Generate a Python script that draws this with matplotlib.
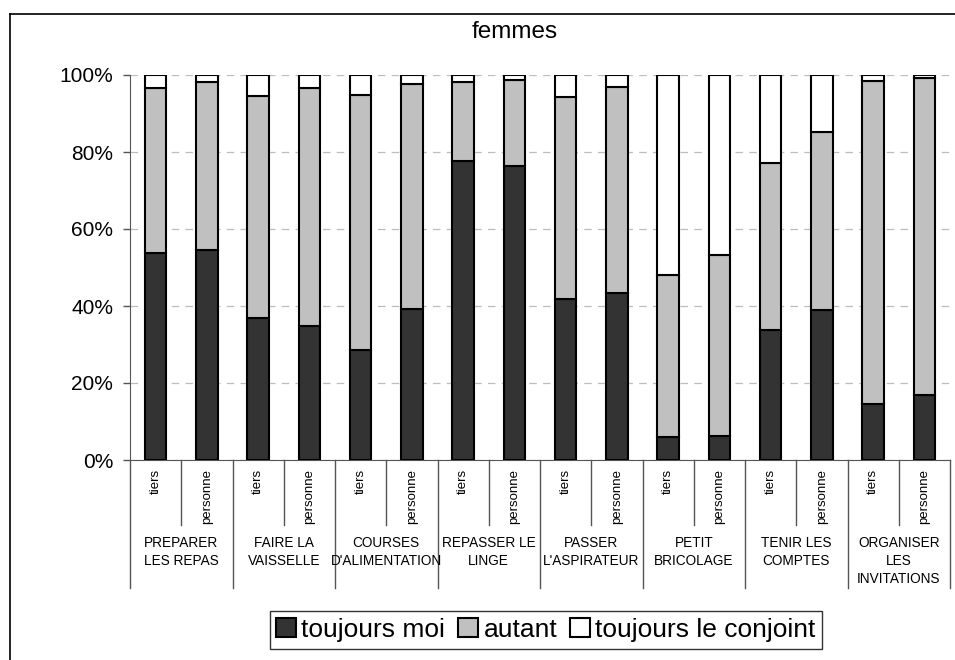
import numpy as np
import matplotlib
matplotlib.use("Agg")
import matplotlib.pyplot as plt
from matplotlib.lines import Line2D

plt.rcParams['font.family'] = ['Liberation Sans', 'DejaVu Sans']

# Data (percent)
categories = ["PREPARER\nLES REPAS", "FAIRE LA\nVAISSELLE", "COURSES\nD'ALIMENTATION",
              "REPASSER LE\nLINGE", "PASSER\nL'ASPIRATEUR", "PETIT\nBRICOLAGE",
              "TENIR LES\nCOMPTES", "ORGANISER\nLES\nINVITATIONS"]
sub_labels = ["tiers", "personne"]
toujours_moi = [53.7, 54.5, 36.8, 34.9, 28.7, 39.3, 77.7, 76.4,
                41.8, 43.5, 6.1, 6.2, 33.8, 39.0, 14.5, 16.9]
autant = [43.0, 43.8, 57.7, 61.8, 66.0, 58.4, 20.6, 22.3,
          52.4, 53.3, 41.9, 47.0, 43.4, 46.1, 83.9, 82.2]
toujours_conjoint = [3.3, 1.7, 5.5, 3.3, 5.3, 2.3, 1.7, 1.3,
                     5.8, 3.2, 52.0, 46.8, 22.8, 14.9, 1.6, 0.9]
series_names = ["toujours moi", "autant", "toujours le conjoint"]
colors = ["#333333", "#c0c0c0", "#ffffff"]

fig = plt.figure(figsize=(9.55, 6.6), dpi=100)
ax = fig.add_axes([130 / 955, 1 - 460 / 660, 820 / 955, 385 / 660])

x = np.arange(len(toujours_moi))
bottom = np.zeros(len(x))
for vals, name, col in zip([toujours_moi, autant, toujours_conjoint], series_names, colors):
    ax.bar(x, vals, width=0.42, bottom=bottom, color=col, edgecolor="black",
           linewidth=1.5, label=name, zorder=3)
    bottom += np.array(vals)

ax.set_xlim(-0.5, len(x) - 0.5)
ax.set_ylim(0, 100)
ax.set_yticks(range(0, 101, 20))
ax.set_yticklabels([f"{v}%" for v in range(0, 101, 20)], fontsize=15)
ax.tick_params(axis="y", length=5, width=1, color="#555555", pad=7)
ax.set_xticks([])
ax.yaxis.grid(True, color="#bdbdbd", linestyle=(0, (6, 5)), linewidth=0.9, zorder=0)

ax.spines["top"].set_visible(False)
ax.spines["right"].set_visible(False)
ax.spines["left"].set_color("#555555")
ax.spines["bottom"].set_color("#555555")

# Hierarchical x-axis labels
trans = ax.get_xaxis_transform()
for i in range(len(x)):
    ax.text(i, -0.024, sub_labels[i % 2], rotation=90, ha="center", va="top",
            fontsize=9.5, transform=trans)
for g in range(len(categories) + 1):
    xb = 2 * g - 0.5
    ax.add_line(Line2D([xb, xb], [0, -0.332], transform=trans, color="#555555",
                       linewidth=1, clip_on=False))
for g in range(len(categories)):
    xm = 2 * g + 0.5
    ax.add_line(Line2D([xm, xm], [0, -0.169], transform=trans, color="#555555",
                       linewidth=1, clip_on=False))
    ax.text(2 * g + 0.5, -0.198, categories[g], ha="center", va="top",
            fontsize=9.8, linespacing=1.36, transform=trans)

fig.text(515 / 955, 1 - 32 / 660, "femmes", ha="center", va="center", fontsize=17.5)

leg = fig.legend(loc="center", bbox_to_anchor=(546 / 955, 1 - 630 / 660), ncol=3,
                 fontsize=19, frameon=True, fancybox=False, edgecolor="black",
                 handlelength=0.75, handleheight=0.75, handletextpad=0.2,
                 columnspacing=0.5, borderpad=0.25, borderaxespad=0)
leg.get_frame().set_linewidth(1)

# Outer chart border (only left and top visible)
fig.add_artist(Line2D([10 / 955, 10 / 955], [0, 1 - 14 / 660], color="black", linewidth=1.2,
                      transform=fig.transFigure))
fig.add_artist(Line2D([10 / 955, 1], [1 - 14 / 660, 1 - 14 / 660], color="black", linewidth=1.2,
                      transform=fig.transFigure))

fig.savefig("out.png", dpi=100)
